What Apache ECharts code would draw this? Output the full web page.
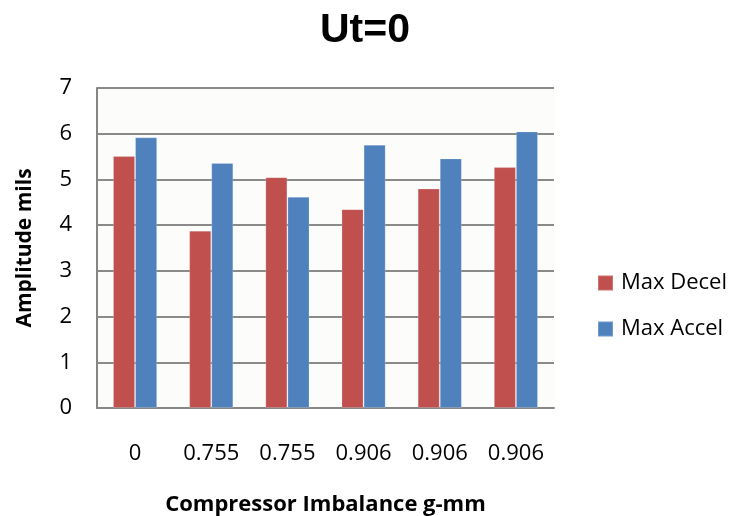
<!DOCTYPE html>
<html>
<head>
<meta charset="utf-8">
<title>Ut=0</title>
<script src="https://cdn.jsdelivr.net/npm/echarts@6/dist/echarts.min.js"></script>
<style>
  html, body { margin: 0; padding: 0; background: #ffffff; }
  #chart { width: 730px; height: 516px; }
</style>
</head>
<body>
<div id="chart"></div>
<script>
// Compressor imbalance settings (g-mm) along the x axis
const categories = ['0', '0.755', '0.755', '0.906', '0.906', '0.906'];

// Peak vibration amplitude (mils) during deceleration and acceleration
const maxDecel = [5.51, 3.88, 5.05, 4.35, 4.80, 5.27];
const maxAccel = [5.92, 5.36, 4.62, 5.76, 5.46, 6.05];

// Value axis range
const yMin = 0;
const yMax = 7;
const yStep = 1;

const labelFont = '"Open Sans", "Noto Sans", sans-serif';

const chart = echarts.init(document.getElementById('chart'), null, { renderer: 'canvas' });

chart.setOption({
  backgroundColor: '#ffffff',
  animation: false,
  title: {
    text: 'Ut=0',
    left: 'center',
    top: 5,
    textStyle: {
      fontFamily: '"Liberation Sans", Arial, sans-serif',
      fontWeight: 'bold',
      fontSize: 41,
      lineHeight: 41,
      color: '#000000'
    }
  },
  legend: {
    orient: 'vertical',
    left: 597,
    top: 272,
    padding: 0,
    itemWidth: 15,
    itemHeight: 15,
    itemGap: 24,
    icon: 'rect',
    textStyle: {
      fontFamily: labelFont,
      fontSize: 22,
      lineHeight: 22,
      color: '#000000',
      padding: [0, 0, 0, 3]
    },
    data: ['Max Decel', 'Max Accel']
  },
  grid: {
    left: 97,
    right: 176,
    top: 88,
    bottom: 108,
    outerBoundsMode: 'none',
    containLabel: false,
    show: true,
    backgroundColor: '#fcfcfa',
    borderWidth: 0
  },
  xAxis: {
    type: 'category',
    data: categories,
    name: 'Compressor Imbalance g-mm',
    nameLocation: 'middle',
    nameGap: 86,
    nameTextStyle: {
      fontFamily: labelFont,
      fontWeight: 'bold',
      fontSize: 22,
      lineHeight: 22,
      color: '#000000'
    },
    axisLine: { show: true, lineStyle: { color: '#868686', width: 2 } },
    axisTick: { show: false },
    axisLabel: {
      margin: 35,
      fontFamily: labelFont,
      fontSize: 22,
      lineHeight: 22,
      color: '#000000'
    },
    splitLine: { show: false }
  },
  yAxis: {
    type: 'value',
    min: yMin,
    max: yMax,
    interval: yStep,
    name: 'Amplitude mils',
    nameLocation: 'middle',
    nameGap: 61,
    nameRotate: 90,
    nameTextStyle: {
      fontFamily: labelFont,
      fontWeight: 'bold',
      fontSize: 21,
      lineHeight: 22,
      color: '#000000'
    },
    axisLine: { show: true, lineStyle: { color: '#868686', width: 2 } },
    axisTick: { show: false },
    axisLabel: {
      margin: 25,
      fontFamily: labelFont,
      fontSize: 22,
      color: '#000000'
    },
    splitLine: { show: true, lineStyle: { color: '#8a8a8a', width: 2 } }
  },
  series: [
    {
      name: 'Max Decel',
      type: 'bar',
      data: maxDecel,
      barGap: '0%',
      barCategoryGap: '42%',
      itemStyle: {
        color: '#c0504d',
        borderColor: 'rgba(255,255,255,0.2)',
        borderWidth: 1
      }
    },
    {
      name: 'Max Accel',
      type: 'bar',
      data: maxAccel,
      barGap: '0%',
      barCategoryGap: '42%',
      itemStyle: {
        color: '#4f81bd',
        borderColor: 'rgba(255,255,255,0.2)',
        borderWidth: 1
      }
    }
  ]
});
</script>
</body>
</html>
